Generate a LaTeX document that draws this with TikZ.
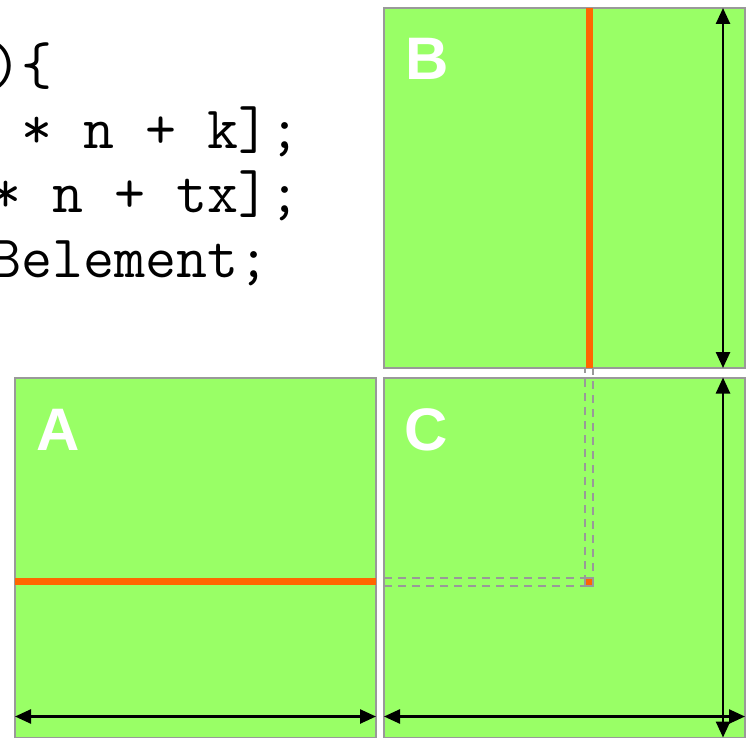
\documentclass[tikz,border=0pt]{standalone}
\usepackage{fontspec}
\setmainfont{Liberation Sans}
\setsansfont{Liberation Sans}
\usetikzlibrary{arrows.meta,positioning}
\definecolor{MatGreen}{HTML}{99FF66}
\definecolor{MatFrame}{HTML}{999999}
\definecolor{MatStrip}{HTML}{FF6600}
\tikzset{
  mm/matrix/.style={
    draw=MatFrame, line width=2pt, fill=MatGreen,
    minimum width=361pt, minimum height=360pt,
    inner sep=0pt, outer sep=0pt
  },
  mm/name/.style={
    font=\sffamily\bfseries\fontsize{60pt}{60pt}\selectfont,
    text=white, inner sep=0pt
  },
  mm/strip/.style={draw=MatStrip, line width=7pt},
  mm/trace/.style={
    draw=MatFrame, line width=2pt, dash pattern=on 8pt off 6pt
  },
  mm/cell/.style={
    draw=MatFrame, line width=2pt, fill=MatStrip,
    minimum size=8pt, inner sep=0pt
  },
  mm/dim/.style={
    {Triangle[length=16pt,width=14pt]}-{Triangle[length=16pt,width=14pt]},
    line width=2.5pt, draw=black
  },
  mm/code/.style={
    font=\ttfamily\fontsize{60.2pt}{63pt}\selectfont,
    anchor=base west, inner sep=0pt
  }
}

\begin{document}
\begin{tikzpicture}[x=1pt,y=-1pt]
  \useasboundingbox (0,0) rectangle (752,738);
  % kernel code, cut at the left edge
  \node[mm/code] (code1) at (-10,85) {)\{};
  \node[mm/code] (code2) at (21.6,149) {* n + k];};
  \node[mm/code] (code3) at (-10,213) {* n + tx];};
  \node[mm/code] (code4) at (-10,277) {Belement;};
  % the three matrices
  \node[mm/matrix] (B) at (564.5,188) {};
  \node[mm/matrix] (A) at (195.5,557.5) {};
  \node[mm/matrix] (C) at (564.5,557.5) {};
  \node[mm/name] at ([shift={(43,51)}]B.north west) {B};
  \node[mm/name] at ([shift={(43,52)}]A.north west) {A};
  \node[mm/name] at ([shift={(42,52)}]C.north west) {C};
  % row of A, column of B, element of C
  \coordinate (elem) at (589,581.5);
  \coordinate (elemNW) at ([shift={(-4,-4)}]elem);
  \coordinate (elemSE) at ([shift={(4,4)}]elem);
  \draw[mm/strip] (B.north -| elem) -- (B.south -| elem);
  \draw[mm/strip] (A.west |- elem) -- (A.east |- elem);
  \draw[mm/trace] (C.west |- elemNW) -| (B.south -| elemNW);
  \draw[mm/trace] (C.west |- elemSE) -| (B.south -| elemSE);
  \node[mm/cell] (elemC) at (elem) {};
  % sizes
  \draw[mm/dim] ([xshift=-22pt]B.north east) -- ([xshift=-22pt]B.south east);
  \draw[mm/dim] ([xshift=-22pt]C.north east) -- ([xshift=-22pt]C.south east);
  \draw[mm/dim] ([yshift=21pt]A.south west) -- ([yshift=21pt]A.south east);
  \draw[mm/dim] ([yshift=21pt]C.south west) -- ([yshift=21pt]C.south east);
\end{tikzpicture}
\end{document}
